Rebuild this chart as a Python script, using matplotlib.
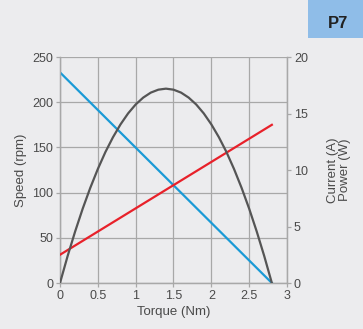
import numpy as np
import matplotlib
matplotlib.use("Agg")
from matplotlib import pyplot as plt

# ---------------- data ----------------
speed_torque = [0.0, 2.8]
speed_rpm = [233, 0]

current_torque = [0.0, 2.8]
current_a = [2.5, 14.0]

power_torque = [0.0, 0.1, 0.2, 0.3, 0.4, 0.5, 0.6, 0.7, 0.8, 0.9, 1.0, 1.1, 1.2, 1.3, 1.4,
                1.5, 1.6, 1.7, 1.8, 1.9, 2.0, 2.1, 2.2, 2.3, 2.4, 2.5, 2.6, 2.7, 2.8]
power_w = [0.0, 2.37, 4.56, 6.58, 8.42, 10.09, 11.59, 12.9, 14.04, 15.01, 15.8, 16.41, 16.85, 17.11, 17.2,
           17.11, 16.85, 16.41, 15.8, 15.01, 14.04, 12.9, 11.59, 10.09, 8.42, 6.58, 4.56, 2.37, 0.0]

x_ticks = [0, 0.5, 1, 1.5, 2, 2.5, 3]
x_ticklabels = ['0', '0.5', '1', '1.5', '2', '2.5', '3']
y_ticks = [0, 50, 100, 150, 200, 250]
y2_ticks = [0, 5, 10, 15, 20]

bg = '#ececee'
txt = '#4a4a4a'
grid_c = '#a8a8a8'

plt.rcParams['font.family'] = ['Liberation Sans', 'DejaVu Sans']
fig = plt.figure(figsize=(3.63, 3.29), dpi=100, facecolor=bg)
ax = fig.add_axes([0.1653, 0.1398, 0.6253, 0.6869])
ax.set_facecolor(bg)
ax2 = ax.twinx()

ax.plot(speed_torque, speed_rpm, color='#1a9ad6', linewidth=1.6, zorder=3)
ax2.plot(current_torque, current_a, color='#e8212a', linewidth=1.6, zorder=3)
ax2.plot(power_torque, power_w, color='#555555', linewidth=1.6, zorder=3)

ax.set_xlim(0, 3)
ax.set_ylim(0, 250)
ax2.set_ylim(0, 20)
ax.set_xticks(x_ticks)
ax.set_xticklabels(x_ticklabels)
ax.set_yticks(y_ticks)
ax2.set_yticks(y2_ticks)
ax.grid(True, color=grid_c, linewidth=0.9)
ax.set_axisbelow(True)

for a in (ax, ax2):
    for sp in a.spines.values():
        sp.set_color(grid_c)
        sp.set_linewidth(0.9)
    a.tick_params(colors=txt, labelsize=9, length=3, width=0.9, pad=2)
ax.tick_params(axis='both', color=grid_c)
ax2.tick_params(axis='y', color=grid_c)
ax.spines['top'].set_visible(False)
ax2.spines['top'].set_visible(False)

ax.set_xlabel('Torque (Nm)', color=txt, fontsize=9.5, labelpad=3)
ax.set_ylabel('Speed (rpm)', color=txt, fontsize=9.5, labelpad=4)
ax2.set_ylabel('Current (A)\nPower (W)', color=txt, fontsize=9.5, labelpad=14,
               linespacing=0.95)

# P7 tag in the top right corner
fig.patches.append(plt.Rectangle((308 / 363, 1 - 38 / 329), 55 / 363, 38 / 329,
                                 transform=fig.transFigure, facecolor='#8fbde8',
                                 edgecolor='none'))
fig.text(338 / 363, 1 - 24 / 329, 'P7', ha='center', va='center', fontsize=12,
         fontweight='bold', color='#222222')

plt.savefig('out.png', dpi=100, facecolor=bg)
plt.close('all')
